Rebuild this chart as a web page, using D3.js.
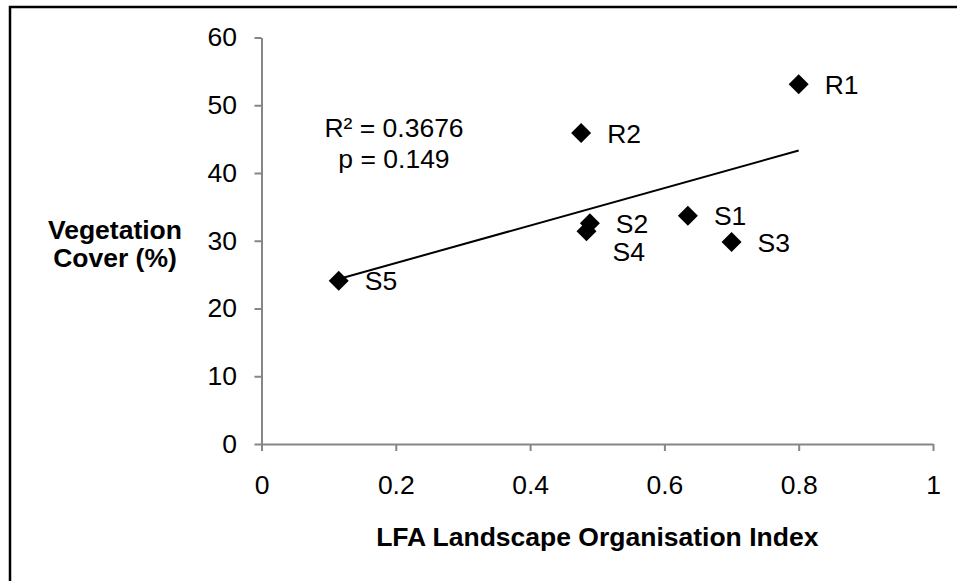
<!DOCTYPE html>
<html>
<head>
<meta charset="utf-8">
<script src="https://cdn.jsdelivr.net/npm/d3@7"></script>
<style>
  body { margin: 0; background: #fff; }
  text { font-family: "Liberation Sans", Arial, sans-serif; }
</style>
</head>
<body>
<div id="chart"></div>
<script>
// site labels and values
const siteLabels = ["R1", "R2", "S1", "S2", "S3", "S4", "S5"];
const lfaIndex = [0.80, 0.476, 0.635, 0.489, 0.70, 0.484, 0.115];
const vegCover = [53.1, 45.9, 33.7, 32.6, 29.8, 31.4, 24.1];
const xTicks = [0, 0.2, 0.4, 0.6, 0.8, 1];
const yTicks = [0, 10, 20, 30, 40, 50, 60];
const statsText = ["R\u00b2 = 0.3676", "p = 0.149"];

const W = 957, H = 581;
const margin = { top: 37.5, right: 24, bottom: 137, left: 261.5 };
const fontSize = "26.5px";

const data = siteLabels.map((s, i) => ({ label: s, x: lfaIndex[i], y: vegCover[i] }));

const svg = d3.select("#chart")
    .append("svg")
    .attr("width", W)
    .attr("height", H);

// outer frame (right/bottom edges fall outside the picture)
svg.append("rect")
    .attr("x", 10)
    .attr("y", 7)
    .attr("width", W + 20)
    .attr("height", H + 20)
    .attr("fill", "none")
    .attr("stroke", "#000")
    .attr("stroke-width", 2.5);

const x = d3.scaleLinear()
    .domain([0, 1])
    .range([margin.left, W - margin.right]);

const y = d3.scaleLinear()
    .domain([0, 60])
    .range([H - margin.bottom, margin.top]);

const axisColor = "#868686";

const gx = svg.append("g")
    .attr("transform", `translate(0,${y(0)})`)
    .call(d3.axisBottom(x).tickValues(xTicks).tickFormat(d => d3.format("")(d))
        .tickSize(7).tickSizeOuter(0).tickPadding(24));

const gy = svg.append("g")
    .attr("transform", `translate(${x(0)},0)`)
    .call(d3.axisLeft(y).tickValues(yTicks).tickSize(7).tickSizeOuter(0).tickPadding(17.5));

[gx, gy].forEach(g => {
    g.select(".domain").attr("stroke", axisColor).attr("stroke-width", 2);
    g.selectAll(".tick line").attr("stroke", axisColor).attr("stroke-width", 2);
    g.selectAll(".tick text")
        .attr("fill", "#000")
        .style("font-size", fontSize)
        .style("font-family", "'Liberation Sans', Arial, sans-serif");
});

// least-squares trend line over the data range
const mx = d3.mean(data, d => d.x), my = d3.mean(data, d => d.y);
const slope = d3.sum(data, d => (d.x - mx) * (d.y - my)) / d3.sum(data, d => (d.x - mx) ** 2);
const intercept = my - slope * mx;
const xExt = d3.extent(data, d => d.x);

svg.append("path")
    .datum(xExt.map(v => [v, intercept + slope * v]))
    .attr("fill", "none")
    .attr("stroke", "#000")
    .attr("stroke-width", 2)
    .attr("d", d3.line().x(d => x(d[0])).y(d => y(d[1])));

// diamond markers
svg.selectAll(".pt")
    .data(data)
    .join("path")
    .attr("class", "pt")
    .attr("d", d3.symbol(d3.symbolSquare, 200))
    .attr("transform", d => `translate(${x(d.x)},${y(d.y)}) rotate(45)`)
    .attr("fill", "#000");

// point labels
svg.selectAll(".lbl")
    .data(data)
    .join("text")
    .attr("class", "lbl")
    .attr("x", d => x(d.x) + 26)
    .attr("y", d => y(d.y) + (d.label === "S4" ? 30 : 9.5))
    .style("font-size", fontSize)
    .attr("fill", "#000")
    .text(d => d.label);

// R² and p annotation
svg.append("text")
    .attr("x", 394)
    .attr("y", 137)
    .attr("text-anchor", "middle")
    .style("font-size", fontSize)
    .selectAll("tspan")
    .data(statsText)
    .join("tspan")
    .attr("x", 394)
    .attr("dy", (d, i) => i === 0 ? 0 : 31)
    .text(d => d);

// axis titles
svg.append("text")
    .attr("x", (x(0) + x(1)) / 2)
    .attr("y", 545.5)
    .attr("text-anchor", "middle")
    .style("font-size", fontSize)
    .style("font-weight", "bold")
    .text("LFA Landscape Organisation Index");

svg.append("text")
    .attr("x", 115)
    .attr("y", 239)
    .attr("text-anchor", "middle")
    .style("font-size", fontSize)
    .style("font-weight", "bold")
    .selectAll("tspan")
    .data(["Vegetation", "Cover (%)"])
    .join("tspan")
    .attr("x", 115)
    .attr("dy", (d, i) => i === 0 ? 0 : 28)
    .text(d => d);
</script>
</body>
</html>
